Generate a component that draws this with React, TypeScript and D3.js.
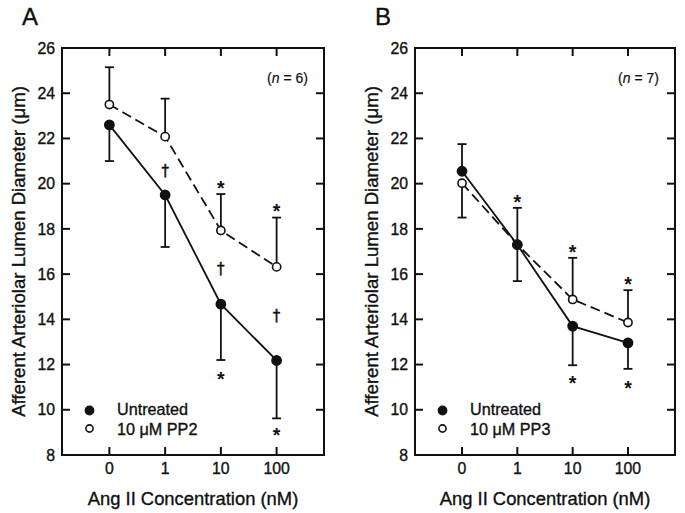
import React from "react";
import * as d3 from "d3";

// ---- data ----
const categories = ["0", "1", "10", "100"];
const yTicks = [8, 10, 12, 14, 16, 18, 20, 22, 24, 26];

// Panel A
const aUntreated = [22.6, 19.5, 14.67, 12.18];
const aUntreatedErrDown = [1.6, 2.3, 2.47, 2.56];
const aPP2 = [23.5, 22.08, 17.93, 16.32];
const aPP2ErrUp = [1.65, 1.68, 1.61, 2.18];
const aMarks = [
  { i: 1, v: 20.55, s: "†" },
  { i: 2, v: 20.05, s: "*" },
  { i: 2, v: 16.2, s: "†" },
  { i: 2, v: 11.6, s: "*" },
  { i: 3, v: 19.0, s: "*" },
  { i: 3, v: 14.15, s: "†" },
  { i: 3, v: 9.12, s: "*" },
];

// Panel B
const bUntreated = [20.55, 17.3, 13.7, 12.96];
const bUntreatedErrUp = [1.2, 0, 0, 0];
const bUntreatedErrDown = [0, 1.61, 1.73, 1.15];
const bPP3 = [20.02, 17.31, 14.88, 13.86];
const bPP3ErrUp = [0, 1.62, 1.84, 1.43];
const bPP3ErrDown = [1.52, 0, 0, 0];
const bMarks = [
  { i: 1, v: 19.4, s: "*" },
  { i: 2, v: 17.2, s: "*" },
  { i: 3, v: 15.77, s: "*" },
  { i: 2, v: 11.42, s: "*" },
  { i: 3, v: 11.2, s: "*" },
];

const FONT = "'Liberation Sans', Arial, Helvetica, sans-serif";
const TOP = 48;
const BOTTOM = 455;
const INK = "#111";
const TXT = { fontFamily: FONT, fill: INK, stroke: INK, strokeWidth: 0.35 };

type Series = {
  values: number[];
  up: number[];
  down: number[];
  filled: boolean;
};

function Panel(props: {
  left: number;
  right: number;
  label: string;
  n: string;
  series: Series[];
  marks: { i: number; v: number; s: string }[];
  legend: string[];
}) {
  const { left, right, label, n, series, marks, legend } = props;
  const x = d3.scaleLinear().domain([-0.85, 3.85]).range([left, right]);
  const y = d3.scaleLinear().domain([8, 26]).range([BOTTOM, TOP]);
  const tickLen = 8;
  const cap = 4.5;

  const line = d3
    .line<number>()
    .x((_, i) => x(i))
    .y((d) => y(d));

  const ordered = [...series].sort((a, b) => (a.filled ? 1 : 0) - (b.filled ? 1 : 0));

  return (
    <g>
      <text x={left - 40} y={25} fontSize={24} {...TXT}>
        {label}
      </text>
      <text
        transform={`translate(${left - 37},${(TOP + BOTTOM) / 2}) rotate(-90)`}
        textAnchor="middle"
        fontSize={18.6}
        {...TXT}
      >
        Afferent Arteriolar Lumen Diameter (μm)
      </text>
      <text x={(left + right) / 2} y={505} textAnchor="middle" fontSize={18.4} {...TXT}>
        Ang II Concentration (nM)
      </text>
      <rect
        x={left}
        y={TOP}
        width={right - left}
        height={BOTTOM - TOP}
        fill="none"
        stroke={INK}
        strokeWidth={2}
      />
      {yTicks.map((t) => (
        <g key={"y" + t}>
          {t !== 8 && t !== 26 && (
            <>
              <line x1={left} x2={left + tickLen} y1={y(t)} y2={y(t)} stroke={INK} strokeWidth={2} />
              <line x1={right} x2={right - tickLen} y1={y(t)} y2={y(t)} stroke={INK} strokeWidth={2} />
            </>
          )}
          <text x={left - 7} y={y(t)} dy="0.36em" textAnchor="end" fontSize={15.8} {...TXT}>
            {t}
          </text>
        </g>
      ))}
      {categories.map((c, i) => (
        <g key={"x" + c}>
          <line x1={x(i)} x2={x(i)} y1={TOP} y2={TOP + tickLen} stroke={INK} strokeWidth={2} />
          <line x1={x(i)} x2={x(i)} y1={BOTTOM} y2={BOTTOM - tickLen} stroke={INK} strokeWidth={2} />
          <text x={x(i)} y={474} textAnchor="middle" fontSize={15.8} {...TXT}>
            {c}
          </text>
        </g>
      ))}
      <text x={right - 16} y={82.5} textAnchor="end" fontSize={14} {...TXT} strokeWidth={0.2}>
        (<tspan fontStyle="italic">n</tspan> = {n})
      </text>
      {ordered.map((s, k) => (
        <path
          key={"l" + k}
          d={line(s.values) || ""}
          fill="none"
          stroke={INK}
          strokeWidth={1.8}
          strokeDasharray={s.filled ? undefined : "10,5"}
        />
      ))}
      {series.map((s, k) =>
        s.values.map((v, i) => {
          const els: JSX.Element[] = [];
          const ends: number[] = [];
          if (s.up[i] > 0) ends.push(v + s.up[i]);
          if (s.down[i] > 0) ends.push(v - s.down[i]);
          ends.forEach((e, j) => {
            els.push(
              <g key={`e${k}-${i}-${j}`}>
                <line x1={x(i)} x2={x(i)} y1={y(v)} y2={y(e)} stroke={INK} strokeWidth={1.8} />
                <line x1={x(i) - cap} x2={x(i) + cap} y1={y(e)} y2={y(e)} stroke={INK} strokeWidth={1.8} />
              </g>
            );
          });
          return els;
        })
      )}
      {ordered.map((s, k) =>
        s.values.map((v, i) => (
          <circle
            key={`m${k}-${i}`}
            cx={x(i)}
            cy={y(v)}
            r={s.filled ? 4.6 : 4.1}
            fill={s.filled ? INK : "#fff"}
            stroke={INK}
            strokeWidth={1.6}
          />
        ))
      )}
      {marks.map((m, k) =>
        m.s === "*" ? (
          <text
            key={"s" + k}
            x={x(m.i)}
            y={y(m.v)}
            dy="0.62em"
            textAnchor="middle"
            fontSize={19.5}
            fontWeight="bold"
            fontFamily={FONT}
            fill={INK}
          >
            *
          </text>
        ) : (
          <text
            key={"s" + k}
            x={x(m.i)}
            y={y(m.v)}
            dy="0.32em"
            textAnchor="middle"
            fontSize={15}
            fontFamily="'DejaVu Sans', sans-serif"
            fill={INK}
            stroke={INK}
            strokeWidth={0.45}
          >
            {"\u2020"}
          </text>
        )
      )}
      <circle cx={left + 27.5} cy={410.5} r={4.3} fill={INK} stroke={INK} strokeWidth={1.2} />
      <circle cx={left + 27.5} cy={428.5} r={3.6} fill="#fff" stroke={INK} strokeWidth={1.6} />
      <text x={left + 55} y={415} fontSize={16.2} {...TXT}>
        {legend[0]}
      </text>
      <text x={left + 55} y={434.5} fontSize={16.2} {...TXT}>
        {legend[1]}
      </text>
    </g>
  );
}

export default function App() {
  const zeros = [0, 0, 0, 0];
  return (
    <svg width={685} height={513} style={{ position: "absolute", left: 0, top: 0, background: "#fff" }}>
      <rect x={0} y={0} width={685} height={513} fill="#fff" />
      <Panel
        left={62}
        right={324}
        label="A"
        n="6"
        series={[
          { values: aUntreated, up: zeros, down: aUntreatedErrDown, filled: true },
          { values: aPP2, up: aPP2ErrUp, down: zeros, filled: false },
        ]}
        marks={aMarks}
        legend={["Untreated", "10 μM PP2"]}
      />
      <Panel
        left={415}
        right={675}
        label="B"
        n="7"
        series={[
          { values: bUntreated, up: bUntreatedErrUp, down: bUntreatedErrDown, filled: true },
          { values: bPP3, up: bPP3ErrUp, down: bPP3ErrDown, filled: false },
        ]}
        marks={bMarks}
        legend={["Untreated", "10 μM PP3"]}
      />
    </svg>
  );
}
